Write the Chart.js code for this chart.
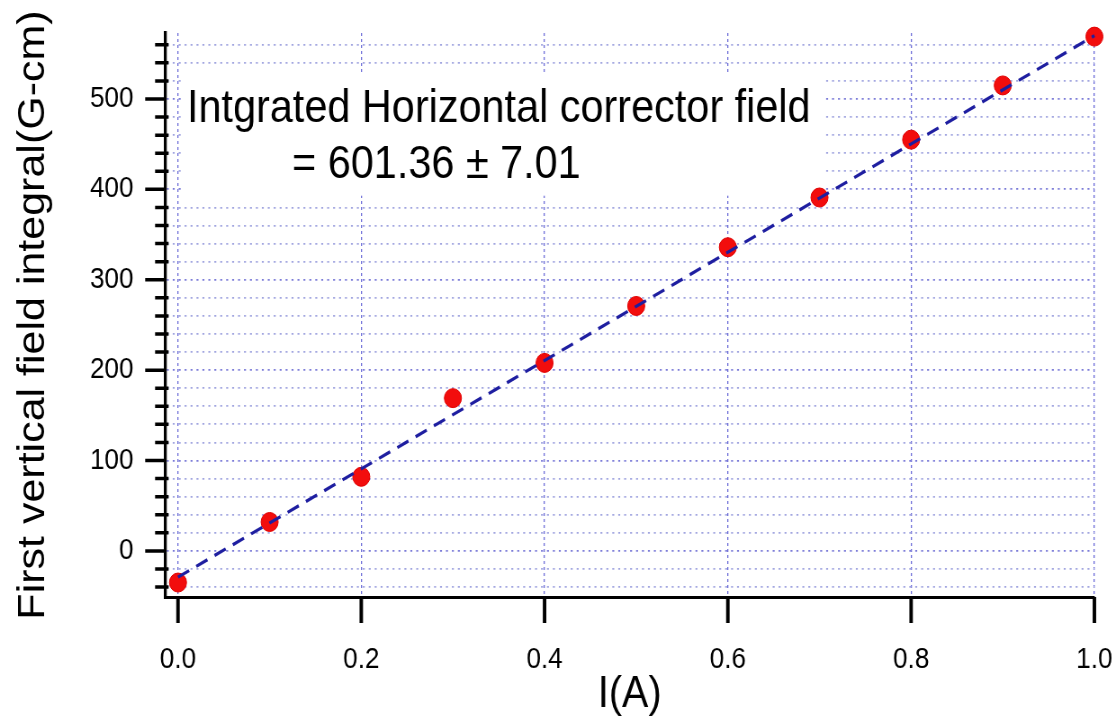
<!DOCTYPE html>
<html>
<head>
<meta charset="utf-8">
<script src="https://cdn.jsdelivr.net/npm/chart.js@4"></script>
<style>
  html, body { margin: 0; padding: 0; background: #fff; }
  canvas { display: block; }
</style>
</head>
<body>
<!-- the plot is drawn wide and squeezed to 1116px, like the original image -->
<canvas id="grafico" width="1240" height="721" style="width:1116px;height:721px"></canvas>
<script>
const currents = [0.0, 0.1, 0.2, 0.3, 0.4, 0.5, 0.6, 0.7, 0.8, 0.9, 1.0];
const fieldIntegral = [-35, 32, 82, 169, 208, 271, 336, 391, 455, 515, 569];

const fitX = [0, 1];
const fitY = [-29, 570];

const xTicks = [0, 0.2, 0.4, 0.6, 0.8, 1.0];
const yLabels = [0, 100, 200, 300, 400, 500];
const yMinorTicks = [-40, -20, 0, 20, 40, 60, 80, 100, 120, 140, 160, 180, 200, 220, 240, 260, 280,
  300, 320, 340, 360, 380, 400, 420, 440, 460, 480, 500, 520, 540, 560];

const note = ["Intgrated Horizontal corrector field", "= 601.36 ± 7.01"];

const FONT = "'Liberation Sans', Arial, Helvetica, sans-serif";
const SQ = 0.9; // horizontal squeeze of the canvas

function noPadding(scale) {
  scale.paddingTop = 0;
  scale.paddingBottom = 0;
  scale.paddingLeft = 0;
  scale.paddingRight = 0;
}

const annotation = {
  id: "annotation",
  beforeDatasetsDraw(chart) {
    const { ctx, scales: { x, y } } = chart;
    ctx.save();
    ctx.fillStyle = "#fff";
    const x0 = x.getPixelForValue(0.006);
    const x1 = x.getPixelForValue(0.705);
    const y0 = y.getPixelForValue(527);
    const y1 = y.getPixelForValue(393);
    ctx.fillRect(x0, y0, x1 - x0, y1 - y0);

    ctx.fillStyle = "#000";
    ctx.font = "46px " + FONT;
    ctx.textBaseline = "alphabetic";
    ctx.textAlign = "left";
    ctx.fillText(note[0], x.getPixelForValue(0.0098), y.getPixelForValue(474));
    ctx.fillText(note[1], x.getPixelForValue(0.1245), y.getPixelForValue(413));
    ctx.restore();
  },
  afterDraw(chart) {
    // tick marks: long ones at labelled values, short ones between
    const { ctx, chartArea, scales: { x, y } } = chart;
    ctx.save();
    ctx.strokeStyle = "#000";
    ctx.lineWidth = 3.5;
    ctx.beginPath();
    yMinorTicks.forEach((v) => {
      const py = y.getPixelForValue(v);
      if (yLabels.includes(v)) {
        ctx.moveTo(chartArea.left - 22, py);
        ctx.lineTo(chartArea.left, py);
      } else {
        ctx.moveTo(chartArea.left - 11, py);
        ctx.lineTo(chartArea.left + 4, py);
      }
    });
    ctx.stroke();
    ctx.lineWidth = 3.5 / SQ;
    ctx.beginPath();
    xTicks.forEach((v) => {
      const px = x.getPixelForValue(v);
      ctx.moveTo(px, chartArea.bottom);
      ctx.lineTo(px, chartArea.bottom + 26);
    });
    ctx.stroke();
    ctx.restore();
  }
};

new Chart(document.getElementById("grafico"), {
  type: "scatter",
  data: {
    datasets: [
      {
        label: "fit",
        data: fitX.map((v, i) => ({ x: v, y: fitY[i] })),
        showLine: true,
        borderColor: "#1e1ea0",
        borderWidth: 3.2,
        borderDash: [14, 9],
        pointRadius: 0,
        clip: false
      },
      {
        label: "data",
        data: currents.map((v, i) => ({ x: v, y: fieldIntegral[i] })),
        backgroundColor: "#f20d0d",
        borderColor: "#e00000",
        borderWidth: 1,
        pointRadius: 9.5,
        clip: false
      }
    ]
  },
  options: {
    responsive: false,
    animation: false,
    layout: { padding: { top: 33, right: 24, bottom: 0, left: 0 } },
    plugins: {
      legend: { display: false },
      tooltip: { enabled: false }
    },
    scales: {
      x: {
        type: "linear",
        min: -0.0142,
        max: 1.0,
        afterFit: (scale) => { scale.height = 124; noPadding(scale); },
        afterBuildTicks: (scale) => { scale.ticks = xTicks.map((v) => ({ value: v })); },
        ticks: {
          padding: 46,
          autoSkip: false,
          color: "#000",
          font: { family: FONT, size: 29 },
          maxRotation: 0,
          callback: (v) => v.toFixed(1)
        },
        grid: {
          drawTicks: false,
          color: "#6e6ed8",
          lineWidth: 1.3
        },
        border: { display: true, color: "#000", width: 3, dash: [3, 3] },
        title: {
          display: true,
          text: "I(A)",
          color: "#000",
          font: { family: FONT, size: 44 },
          padding: { top: 0, bottom: 0 }
        }
      },
      y: {
        min: -51,
        max: 573,
        afterFit: (scale) => { scale.width = 183.3; noPadding(scale); },
        afterBuildTicks: (scale) => { scale.ticks = yMinorTicks.map((v) => ({ value: v })); },
        ticks: {
          padding: 35,
          autoSkip: false,
          color: "#000",
          font: { family: FONT, size: 29 },
          callback: (v) => (yLabels.includes(v) ? String(v) : "")
        },
        grid: {
          drawTicks: false,
          color: (c) => (c.tick && c.tick.value % 100 === 0 ? "#7c7cd8" : "#a2a6e0"),
          lineWidth: 1.8
        },
        border: { display: true, color: "#000", width: 3.3, dash: [2.2, 4.4] },
        title: {
          display: true,
          text: "First vertical field integral(G-cm)",
          color: "#000",
          font: { family: FONT, size: 43 },
          padding: { top: 11, bottom: 0 }
        }
      }
    }
  },
  plugins: [annotation]
});
</script>
</body>
</html>
